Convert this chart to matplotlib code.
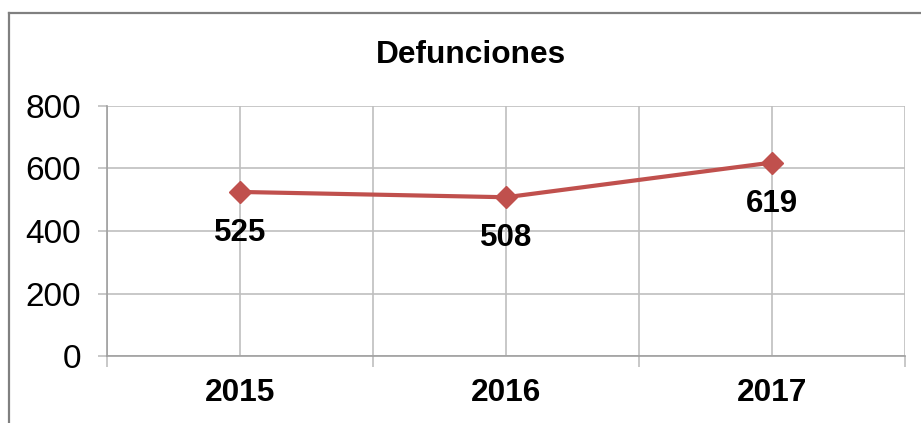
import matplotlib
matplotlib.use("Agg")
import matplotlib.pyplot as plt
from matplotlib.lines import Line2D

plt.rcParams['font.family'] = ['Liberation Sans', 'DejaVu Sans']

years = ["2015", "2016", "2017"]
deaths = [525, 508, 619]
yticks = [0, 200, 400, 600, 800]
title = "Defunciones"

line_color = "#C0504D"
grid_color = "#BFBFBF"

fig = plt.figure(figsize=(9.21, 4.23), dpi=100)
W, H = 921, 423
ax = fig.add_axes([107 / W, (H - 356) / H, (905 - 107) / W, (356 - 106) / H])

x = list(range(len(years)))
ax.plot(x, deaths, color=line_color, lw=3.0, marker='D', ms=11,
        mfc=line_color, mec=line_color, mew=1, zorder=3, solid_capstyle='round')

for xi, v in zip(x, deaths):
    ax.annotate(str(v), (xi, v), xytext=(0, -29.5), textcoords='offset points',
                ha='center', va='center', fontsize=22.5, fontweight='bold', color='black')

ax.set_xlim(-0.5, len(years) - 0.5)
ax.set_ylim(yticks[0], yticks[-1])
ax.set_yticks(yticks)
ax.set_yticklabels([str(t) for t in yticks], fontsize=24)

bounds = [i - 0.5 for i in range(len(years) + 1)]
ax.set_xticks(bounds)
ax.set_xticklabels([''] * len(bounds))
ax.set_xticks(x, minor=True)
ax.set_xticklabels(years, minor=True, fontsize=22.8, fontweight='bold')

ax.tick_params(axis='y', length=6.5, width=1.2, color=grid_color, pad=12)
ax.tick_params(axis='x', which='major', length=8, width=1.2, color=grid_color)
ax.tick_params(axis='x', which='minor', length=0, pad=16)

for t in yticks:
    ax.axhline(t, color=grid_color, lw=1.2, zorder=1)
for b in bounds + x:
    ax.axvline(b, color=grid_color, lw=1.2, zorder=1)

for s in ['top', 'right']:
    ax.spines[s].set_visible(False)
for s in ['left', 'bottom']:
    ax.spines[s].set_color("#A0A0A0")
    ax.spines[s].set_linewidth(1.2)

fig.text(471 / W, 1 - 63 / H, title, ha='center', va='baseline',
         fontsize=22.8, fontweight='bold')

# outer border (left and top visible)
fig.add_artist(Line2D([9 / W, 9 / W], [0, 1 - 13 / H], transform=fig.transFigure,
                      color="#808080", lw=1.6))
fig.add_artist(Line2D([9 / W, 1], [1 - 13 / H, 1 - 13 / H], transform=fig.transFigure,
                      color="#808080", lw=1.6))

fig.savefig("out.png", dpi=100)
